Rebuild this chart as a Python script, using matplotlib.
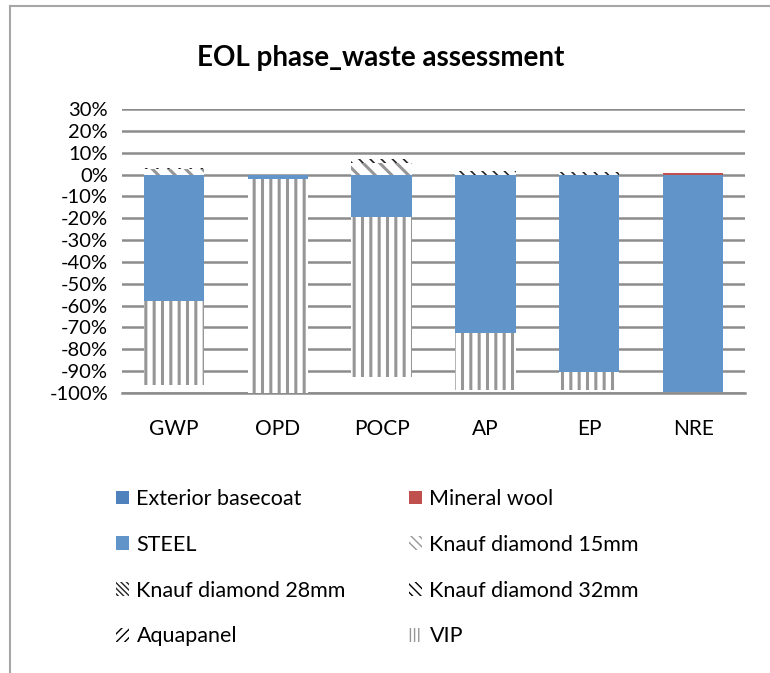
import matplotlib
matplotlib.use("Agg")
import matplotlib.pyplot as plt
import numpy as np
from matplotlib.patches import Patch
from matplotlib.lines import Line2D

plt.rcParams['font.family'] = ['Lato', 'DejaVu Sans']

categories = ["GWP", "OPD", "POCP", "AP", "EP", "NRE"]
exterior_basecoat = [0.0, 0.0, 0.0, 0.0, 0.0, 0.0]
mineral_wool = [0.0, 0.0, 0.0, 0.0, 0.0, 0.005]
steel = [-0.58, -0.02, -0.195, -0.725, -0.905, -0.995]
knauf15 = [0.025, 0.0, 0.055, 0.0, 0.0, 0.0]
knauf28 = [0.005, 0.0, 0.015, 0.015, 0.01, 0.0]
knauf32 = [0.0, 0.0, 0.0, 0.0, 0.0, 0.0]
aquapanel = [0.0, 0.0, 0.0, 0.0, 0.0, 0.0]
vip = [-0.385, -0.98, -0.73, -0.26, -0.08, 0.0]
yticks = [0.3, 0.2, 0.1, 0.0, -0.1, -0.2, -0.3, -0.4, -0.5, -0.6, -0.7, -0.8, -0.9, -1.0]

series = [
    ("Exterior basecoat", exterior_basecoat, dict(facecolor="#4F81BD", edgecolor="#4F81BD", hatch=None)),
    ("Mineral wool", mineral_wool, dict(facecolor="#C0504D", edgecolor="#C0504D", hatch=None)),
    ("STEEL", steel, dict(facecolor="#6194C9", edgecolor="#6194C9", hatch=None)),
    ("Knauf diamond 15mm", knauf15, dict(facecolor="white", edgecolor="#969696", hatch="\\\\")),
    ("Knauf diamond 28mm", knauf28, dict(facecolor="white", edgecolor="#222222", hatch="\\\\\\")),
    ("Knauf diamond 32mm", knauf32, dict(facecolor="white", edgecolor="black", hatch="\\\\")),
    ("Aquapanel", aquapanel, dict(facecolor="white", edgecolor="black", hatch="//")),
    ("VIP", vip, dict(facecolor="white", edgecolor="#969696", hatch="||")),
]
thick = ("VIP", "Knauf diamond 15mm", "Knauf diamond 32mm", "Aquapanel")

W, H = 770, 673
fig = plt.figure(figsize=(W / 100, H / 100), dpi=100)
ax = fig.add_axes([122 / W, 1 - 393 / H, (745 - 122) / W, (393 - 109) / H])

x = np.arange(len(categories))
pos_base = np.zeros(len(categories))
neg_base = np.zeros(len(categories))
bw = 0.58
handles = {}
for name, vals, st in series:
    vals = np.array(vals)
    bottoms = np.where(vals >= 0, pos_base, neg_base)
    bars = ax.bar(x, vals, bw, bottom=bottoms, facecolor=st["facecolor"],
                  edgecolor=st["edgecolor"], hatch=st["hatch"], linewidth=0, zorder=3)
    for b in bars:
        if hasattr(b, "set_hatch_linewidth"):
            b.set_hatch_linewidth(2.2 if name in thick else 1.2)
    pos_base = pos_base + np.where(vals >= 0, vals, 0)
    neg_base = neg_base + np.where(vals < 0, vals, 0)
    h = Patch(facecolor=st["facecolor"], edgecolor=st["edgecolor"],
              hatch=(st["hatch"] * 2 if st["hatch"] else None), linewidth=0)
    if hasattr(h, "set_hatch_linewidth"):
        h.set_hatch_linewidth(2.0 if name in thick else 1.2)
    handles[name] = h

ax.set_xlim(-0.5, len(categories) - 0.5)
ax.set_ylim(-1.0, 0.3)
ax.set_yticks(yticks)
ax.set_yticklabels([f"{int(round(v * 100))}%" for v in yticks], fontsize=14.5)
ax.set_xticks(x)
ax.set_xticklabels(categories, fontsize=15)
ax.tick_params(axis="y", length=0, pad=10)
ax.tick_params(axis="x", length=0, pad=19)
ax.grid(axis="y", color="#8C8C8C", linewidth=1.8, zorder=0)
ax.set_axisbelow(True)
for s in ["left", "right", "top"]:
    ax.spines[s].set_visible(False)
ax.spines["bottom"].set_color("#8C8C8C")
ax.spines["bottom"].set_linewidth(1.8)

fig.text(381 / W, 1 - 58 / H, "EOL phase_waste assessment", ha="center", va="center",
         fontsize=20, fontweight="bold")

col1 = ["Exterior basecoat", "STEEL", "Knauf diamond 28mm", "Aquapanel"]
col2 = ["Mineral wool", "Knauf diamond 15mm", "Knauf diamond 32mm", "VIP"]
common = dict(loc="upper left", frameon=False, fontsize=15.5,
              handlelength=0.6, handleheight=0.6, handletextpad=0.35,
              labelspacing=1.2, borderaxespad=0, borderpad=0)
leg1 = fig.legend([handles[n] for n in col1], col1,
                  bbox_to_anchor=(116 / W, 1 - 489 / H), **common)
leg2 = fig.legend([handles[n] for n in col2], col2,
                  bbox_to_anchor=(409 / W, 1 - 489 / H), **common)

# chart border
fig.add_artist(Line2D([10 / W, 10 / W], [0, 1 - 6 / H], transform=fig.transFigure,
                      color="#A6A6A6", linewidth=1.5))
fig.add_artist(Line2D([10 / W, 1], [1 - 6 / H, 1 - 6 / H], transform=fig.transFigure,
                      color="#A6A6A6", linewidth=1.5))

fig.savefig("out.png", dpi=100)
